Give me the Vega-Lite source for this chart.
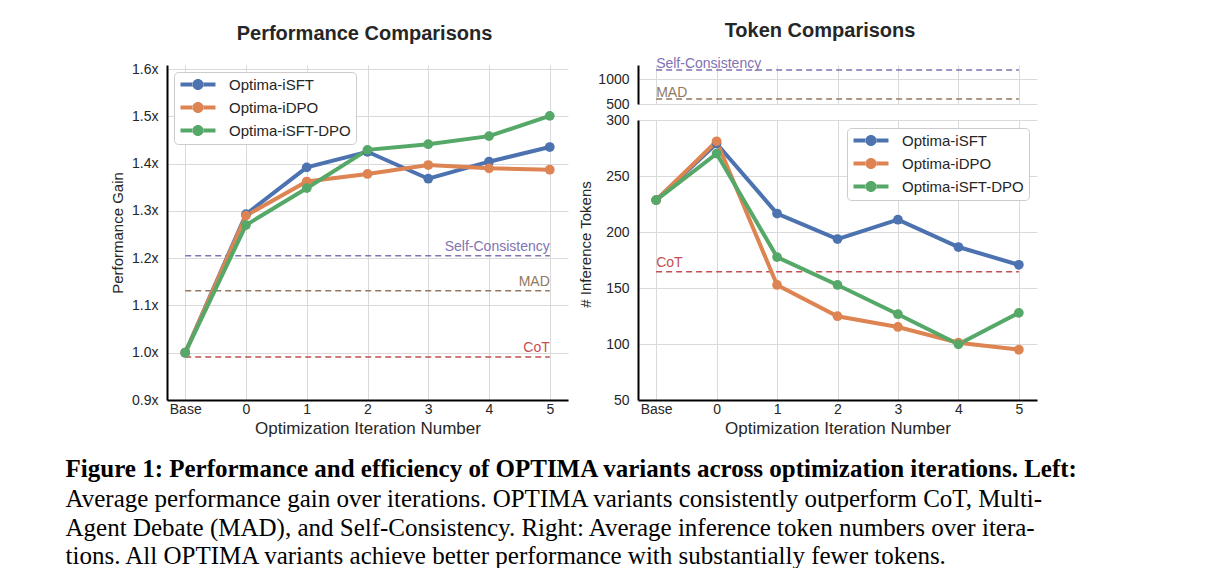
{
  "$schema": "https://vega.github.io/schema/vega-lite/v6.json",
  "background": "white",
  "padding": {"left": 65, "top": 20, "right": 5, "bottom": 5},
  "autosize": {"type": "pad"},
  "datasets": {
    "perf": [
      {"iter": "Base", "v": 1.0, "model": "Optima-iSFT"},
      {"iter": "0", "v": 1.293, "model": "Optima-iSFT"},
      {"iter": "1", "v": 1.392, "model": "Optima-iSFT"},
      {"iter": "2", "v": 1.425, "model": "Optima-iSFT"},
      {"iter": "3", "v": 1.368, "model": "Optima-iSFT"},
      {"iter": "4", "v": 1.404, "model": "Optima-iSFT"},
      {"iter": "5", "v": 1.435, "model": "Optima-iSFT"},
      {"iter": "Base", "v": 1.0, "model": "Optima-iDPO"},
      {"iter": "0", "v": 1.29, "model": "Optima-iDPO"},
      {"iter": "1", "v": 1.362, "model": "Optima-iDPO"},
      {"iter": "2", "v": 1.378, "model": "Optima-iDPO"},
      {"iter": "3", "v": 1.397, "model": "Optima-iDPO"},
      {"iter": "4", "v": 1.39, "model": "Optima-iDPO"},
      {"iter": "5", "v": 1.387, "model": "Optima-iDPO"},
      {"iter": "Base", "v": 1.0, "model": "Optima-iSFT-DPO"},
      {"iter": "0", "v": 1.27, "model": "Optima-iSFT-DPO"},
      {"iter": "1", "v": 1.348, "model": "Optima-iSFT-DPO"},
      {"iter": "2", "v": 1.429, "model": "Optima-iSFT-DPO"},
      {"iter": "3", "v": 1.441, "model": "Optima-iSFT-DPO"},
      {"iter": "4", "v": 1.458, "model": "Optima-iSFT-DPO"},
      {"iter": "5", "v": 1.501, "model": "Optima-iSFT-DPO"}
    ],
    "tokens": [
      {"iter": "Base", "v": 228.5, "model": "Optima-iSFT"},
      {"iter": "0", "v": 279, "model": "Optima-iSFT"},
      {"iter": "1", "v": 216.5, "model": "Optima-iSFT"},
      {"iter": "2", "v": 193.7, "model": "Optima-iSFT"},
      {"iter": "3", "v": 211, "model": "Optima-iSFT"},
      {"iter": "4", "v": 186.6, "model": "Optima-iSFT"},
      {"iter": "5", "v": 170.7, "model": "Optima-iSFT"},
      {"iter": "Base", "v": 228.5, "model": "Optima-iDPO"},
      {"iter": "0", "v": 281, "model": "Optima-iDPO"},
      {"iter": "1", "v": 152.7, "model": "Optima-iDPO"},
      {"iter": "2", "v": 124.8, "model": "Optima-iDPO"},
      {"iter": "3", "v": 115.2, "model": "Optima-iDPO"},
      {"iter": "4", "v": 101.2, "model": "Optima-iDPO"},
      {"iter": "5", "v": 94.9, "model": "Optima-iDPO"},
      {"iter": "Base", "v": 228.5, "model": "Optima-iSFT-DPO"},
      {"iter": "0", "v": 270, "model": "Optima-iSFT-DPO"},
      {"iter": "1", "v": 177.6, "model": "Optima-iSFT-DPO"},
      {"iter": "2", "v": 152.7, "model": "Optima-iSFT-DPO"},
      {"iter": "3", "v": 126.6, "model": "Optima-iSFT-DPO"},
      {"iter": "4", "v": 99.7, "model": "Optima-iSFT-DPO"},
      {"iter": "5", "v": 127.8, "model": "Optima-iSFT-DPO"}
    ],
    "perfBase": [
      {"name": "Self-Consistency", "v": 1.205},
      {"name": "MAD", "v": 1.131},
      {"name": "CoT", "v": 0.991}
    ],
    "tokBaseTop": [
      {"name": "Self-Consistency", "v": 1190},
      {"name": "MAD", "v": 600}
    ],
    "tokBaseBottom": [
      {"name": "CoT", "v": 164.4}
    ]
  },
  "config": {
    "font": "Liberation Sans",
    "view": {"stroke": null},
    "axis": {
      "labelFont": "Liberation Sans",
      "titleFont": "Liberation Sans",
      "labelFontSize": 14,
      "titleFontSize": 17,
      "titleFontWeight": "normal",
      "labelColor": "#262626",
      "titleColor": "#262626",
      "gridColor": "#dadada",
      "gridWidth": 1,
      "domainColor": "#000000",
      "domainWidth": 2,
      "ticks": false,
      "labelPadding": 9,
      "labelFlush": false
    },
    "legend": {
      "title": null,
      "labelFont": "Liberation Sans",
      "labelFontSize": 15,
      "labelColor": "#262626",
      "fillColor": "white",
      "strokeColor": "#cccccc",
      "cornerRadius": 4,
      "padding": 5,
      "rowPadding": 7,
      "symbolType": "M-1,-0.33L1.06,-0.33L1.06,0.33L-1,0.33Z M2.78,-0.33L4.83,-0.33L4.83,0.33L2.78,0.33Z M2.837,0A0.92,0.92 0 1,0 0.997,0A0.92,0.92 0 1,0 2.837,0Z",
      "symbolSize": 144,
      "symbolStrokeWidth": 0,
      "labelOffset": 35
    },
    "title": {"font": "Liberation Sans", "fontSize": 20, "fontWeight": "bold", "color": "#262626"}
  },
  "title": {
    "text": "Figure 1: Performance and efficiency of OPTIMA variants across optimization iterations. Left:",
    "subtitle": [
      "Average performance gain over iterations.  OPTIMA variants consistently outperform CoT, Multi-",
      "Agent Debate (MAD), and Self-Consistency.  Right: Average inference token numbers over itera-",
      "tions. All OPTIMA variants achieve better performance with substantially fewer tokens."
    ],
    "orient": "bottom",
    "anchor": "start",
    "frame": "bounds",
    "dx": -45,
    "offset": 21,
    "font": "Liberation Serif",
    "fontSize": 25,
    "fontWeight": "bold",
    "color": "black",
    "lineHeight": 28.5,
    "subtitleFont": "Liberation Serif",
    "subtitleFontSize": 25,
    "subtitleColor": "black",
    "subtitleLineHeight": 28.5,
    "subtitlePadding": 5
  },
  "resolve": {
    "scale": {"color": "independent", "y": "independent", "stroke": "independent", "fill": "independent"},
    "legend": {"color": "independent"}
  },
  "spacing": 10,
  "hconcat": [
    {
      "width": 401,
      "height": 335,
      "title": {"text": "Performance Comparisons", "offset": 18, "dx": -3},
      "layer": [
        {
          "data": {"name": "perfBase"},
          "mark": {"type": "rule", "strokeDash": [6, 4], "strokeWidth": 1.5},
          "encoding": {
            "x": {"datum": "Base", "type": "ordinal", "scale": {"type": "point", "padding": 0.3, "domain": ["Base", "0", "1", "2", "3", "4", "5"]}},
            "x2": {"datum": "5"},
            "y": {"field": "v", "type": "quantitative", "scale": {"domain": [0.9, 1.6085], "nice": false, "zero": false}},
            "stroke": {"field": "name", "type": "nominal", "scale": {"domain": ["Self-Consistency", "MAD", "CoT"], "range": ["#8172B3", "#937860", "#C44E52"]}, "legend": null}
          }
        },
        {
          "data": {"name": "perfBase"},
          "mark": {"type": "text", "align": "right", "baseline": "alphabetic", "dy": -5, "fontSize": 14, "font": "Liberation Sans"},
          "encoding": {
            "x": {"datum": "5", "type": "ordinal", "scale": {"type": "point", "padding": 0.3, "domain": ["Base", "0", "1", "2", "3", "4", "5"]}},
            "y": {"field": "v", "type": "quantitative"},
            "text": {"field": "name"},
            "fill": {"field": "name", "type": "nominal", "scale": {"domain": ["Self-Consistency", "MAD", "CoT"], "range": ["#8172B3", "#937860", "#C44E52"]}, "legend": null}
          }
        },
        {
          "data": {"name": "perf"},
          "mark": {"type": "line", "strokeWidth": 4, "point": {"filled": true, "size": 95}},
          "encoding": {
            "x": {"field": "iter", "type": "ordinal", "sort": null, "scale": {"type": "point", "padding": 0.3, "domain": ["Base", "0", "1", "2", "3", "4", "5"]},
                  "axis": {"title": "Optimization Iteration Number", "labelAngle": 0, "labelAlign": "center", "labelPadding": 9, "titlePadding": 4, "grid": true}},
            "y": {"field": "v", "type": "quantitative",
                  "axis": {"title": "Performance Gain", "values": [0.9, 1.0, 1.1, 1.2, 1.3, 1.4, 1.5, 1.6], "labelExpr": "format(datum.value, '.1f') + 'x'", "grid": true, "titlePadding": 6, "titleFontSize": 15}},
            "color": {"field": "model", "type": "nominal", "scale": {"domain": ["Optima-iSFT", "Optima-iDPO", "Optima-iSFT-DPO"], "range": ["#4C72B0", "#DD8452", "#55A868"]},
                      "legend": {"orient": "top-left", "offset": 7, "encode": {"symbols": {"update": {"fill": {"scale": "color", "field": "value"}, "stroke": {"value": "transparent"}}}}}}
          }
        }
      ]
    },
    {
      "title": {"text": "Token Comparisons", "offset": 16, "anchor": "start", "dx": 146},
      "spacing": 16,
      "bounds": "flush",
      "resolve": {
        "scale": {"y": "independent", "stroke": "independent", "fill": "independent", "color": "independent"},
        "legend": {"color": "independent"}
      },
      "vconcat": [
        {
          "width": 399,
          "height": 39,
          "layer": [
            {
              "data": {"name": "tokBaseTop"},
              "mark": {"type": "rule", "strokeDash": [6, 4], "strokeWidth": 1.5},
              "encoding": {
                "x": {"datum": "Base", "type": "ordinal", "scale": {"type": "point", "padding": 0.3, "domain": ["Base", "0", "1", "2", "3", "4", "5"]},
                      "axis": {"labels": false, "domain": false, "title": null, "grid": true, "labelPadding": 0}},
                "x2": {"datum": "5"},
                "y": {"field": "v", "type": "quantitative", "scale": {"domain": [500, 1290], "nice": false, "zero": false},
                      "axis": {"title": null, "values": [500, 1000], "format": "d", "grid": true}},
                "stroke": {"field": "name", "type": "nominal", "scale": {"domain": ["Self-Consistency", "MAD"], "range": ["#8172B3", "#937860"]}, "legend": null}
              }
            },
            {
              "data": {"name": "tokBaseTop"},
              "mark": {"type": "text", "align": "left", "baseline": "alphabetic", "dy": -2, "fontSize": 14, "font": "Liberation Sans"},
              "encoding": {
                "x": {"datum": "Base", "type": "ordinal", "scale": {"type": "point", "padding": 0.3, "domain": ["Base", "0", "1", "2", "3", "4", "5"]},
                      "axis": {"labels": false, "domain": false, "title": null, "grid": true, "labelPadding": 0}},
                "y": {"field": "v", "type": "quantitative"},
                "text": {"field": "name"},
                "fill": {"field": "name", "type": "nominal", "scale": {"domain": ["Self-Consistency", "MAD"], "range": ["#8172B3", "#937860"]}, "legend": null}
              }
            }
          ]
        },
        {
          "width": 399,
          "height": 280,
          "layer": [
            {
              "data": {"name": "tokBaseBottom"},
              "mark": {"type": "rule", "strokeDash": [6, 4], "strokeWidth": 1.5},
              "encoding": {
                "x": {"datum": "Base", "type": "ordinal", "scale": {"type": "point", "padding": 0.3, "domain": ["Base", "0", "1", "2", "3", "4", "5"]}},
                "x2": {"datum": "5"},
                "y": {"field": "v", "type": "quantitative", "scale": {"domain": [50, 300], "nice": false, "zero": false}},
                "stroke": {"field": "name", "type": "nominal", "scale": {"domain": ["CoT"], "range": ["#C44E52"]}, "legend": null}
              }
            },
            {
              "data": {"name": "tokBaseBottom"},
              "mark": {"type": "text", "align": "left", "baseline": "alphabetic", "dy": -5, "fontSize": 14, "font": "Liberation Sans"},
              "encoding": {
                "x": {"datum": "Base", "type": "ordinal", "scale": {"type": "point", "padding": 0.3, "domain": ["Base", "0", "1", "2", "3", "4", "5"]}},
                "y": {"field": "v", "type": "quantitative"},
                "text": {"field": "name"},
                "fill": {"field": "name", "type": "nominal", "scale": {"domain": ["CoT"], "range": ["#C44E52"]}, "legend": null}
              }
            },
            {
              "data": {"name": "tokens"},
              "mark": {"type": "line", "strokeWidth": 4, "point": {"filled": true, "size": 95}},
              "encoding": {
                "x": {"field": "iter", "type": "ordinal", "sort": null, "scale": {"type": "point", "padding": 0.3, "domain": ["Base", "0", "1", "2", "3", "4", "5"]},
                      "axis": {"title": "Optimization Iteration Number", "labelAngle": 0, "labelAlign": "center", "labelPadding": 9, "titlePadding": 4, "grid": true}},
                "y": {"field": "v", "type": "quantitative",
                      "axis": {"title": "# Inference Tokens", "values": [50, 100, 150, 200, 250, 300], "grid": true, "titlePadding": 12, "titleFontSize": 15, "titleY": 124}},
                "color": {"field": "model", "type": "nominal", "scale": {"domain": ["Optima-iSFT", "Optima-iDPO", "Optima-iSFT-DPO"], "range": ["#4C72B0", "#DD8452", "#55A868"]},
                          "legend": {"orient": "top-right", "offset": 8, "encode": {"symbols": {"update": {"fill": {"scale": "color", "field": "value"}, "stroke": {"value": "transparent"}}}}}}
              }
            }
          ]
        }
      ]
    }
  ]
}
